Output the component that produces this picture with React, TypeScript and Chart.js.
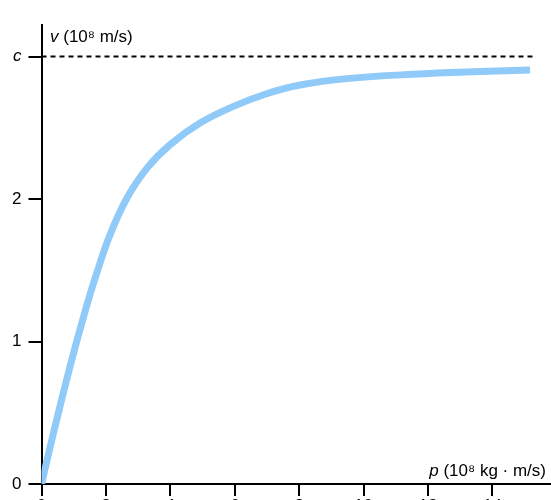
import React, { useEffect, useRef } from 'react';
import { Chart, registerables } from 'chart.js';

Chart.register(...registerables);

// Momentum p (10^8 kg·m/s) and velocity v (10^8 m/s)
const momentum = [0, 0.37, 0.885, 1.38, 1.73, 2.13, 2.65, 3.27, 3.99, 4.92, 5.96, 6.99, 8.03, 9.48, 11.55, 13.62, 15.17];
const velocity = [0, 0.356, 0.824, 1.234, 1.49, 1.75, 2.005, 2.215, 2.381, 2.533, 2.65, 2.739, 2.8, 2.845, 2.876, 2.895, 2.905];

const speedOfLight = 3;
const dashedLineX = [0, 15.3];

const xTickValues = [0, 2, 4, 6, 8, 10, 12, 14];
const xTickLabels = ['0', '2', '4', '6', '8', '10', '12', '14'];
const yTickValues = [0, 1, 2, 3];
const yTickLabels = ['0', '1', '2', 'c'];

const xAxisMax = 15.82;
const yAxisMax = 3.22;

const FONT = '"Liberation Sans", Arial, Helvetica, sans-serif';
const FONT_SIZE = 17;

const axisLabelPlugin = {
  id: 'axisLabels',
  afterDraw(chart: any) {
    const ctx = chart.ctx as CanvasRenderingContext2D;
    const { left, top, right, bottom } = chart.chartArea;
    ctx.save();
    ctx.fillStyle = '#000';
    ctx.textBaseline = 'alphabetic';
    ctx.textAlign = 'left';
    const measure = (items: [string, boolean][]) => {
      let w = 0;
      for (const [t, it] of items) {
        ctx.font = `${it ? 'italic ' : ''}${FONT_SIZE}px ${FONT}`;
        w += ctx.measureText(t).width;
      }
      return w;
    };
    const draw = (items: [string, boolean][], x: number, y: number) => {
      let cx = x;
      for (const [t, it] of items) {
        ctx.font = `${it ? 'italic ' : ''}${FONT_SIZE}px ${FONT}`;
        ctx.fillText(t, cx, y);
        cx += ctx.measureText(t).width;
      }
    };
    const vLabel: [string, boolean][] = [['v', true], [' (10⁸ m/s)', false]];
    draw(vLabel, left + 8.5, top + 16.5);
    const pLabel: [string, boolean][] = [['p', true], [' (10⁸ kg · m/s)', false]];
    const w = measure(pLabel);
    draw(pLabel, right - 5 - w, bottom - 8.5);
    ctx.restore();
  },
};

export default function App() {
  const canvasRef = useRef<HTMLCanvasElement | null>(null);

  useEffect(() => {
    if (!canvasRef.current) return;
    const chart = new Chart(canvasRef.current, {
      type: 'line',
      data: {
        datasets: [
          {
            label: 'c',
            data: dashedLineX.map((x) => ({ x, y: speedOfLight })),
            borderColor: '#000',
            borderWidth: 2,
            borderDash: [5, 4],
            pointRadius: 0,
            fill: false,
          },
          {
            label: 'v(p)',
            data: momentum.map((p, i) => ({ x: p, y: velocity[i] })),
            borderColor: '#90CAF9',
            borderWidth: 7,
            borderCapStyle: 'butt',
            tension: 0.4,
            pointRadius: 0,
            fill: false,
          },
        ],
      },
      options: {
        animation: false,
        responsive: false,
        maintainAspectRatio: false,
        layout: { padding: { top: 17, left: 0, right: 0, bottom: 0 } },
        plugins: {
          legend: { display: false },
          tooltip: { enabled: false },
        },
        scales: {
          x: {
            type: 'linear',
            min: 0,
            max: xAxisMax,
            afterBuildTicks: (scale: any) => {
              scale.ticks = xTickValues.map((v) => ({ value: v }));
            },
            afterFit: (scale: any) => {
              scale.height = 36;
            },
            ticks: {
              color: '#000',
              padding: 0,
              font: { family: FONT, size: FONT_SIZE },
              callback: (_v: any, i: number) => xTickLabels[i],
            },
            grid: {
              display: true,
              drawOnChartArea: false,
              drawTicks: true,
              tickLength: 12,
              color: '#000',
              lineWidth: 2,
            },
            border: { display: true, color: '#000', width: 2 },
          },
          y: {
            type: 'linear',
            min: 0,
            max: yAxisMax,
            afterBuildTicks: (scale: any) => {
              scale.ticks = yTickValues.map((v) => ({ value: v }));
            },
            afterFit: (scale: any) => {
              scale.width = 33.5;
            },
            ticks: {
              color: '#000',
              padding: 7,
              font: (ctx: any) => ({
                family: FONT,
                size: FONT_SIZE,
                style: ctx.tick && ctx.tick.value === speedOfLight ? 'italic' : 'normal',
              }),
              callback: (_v: any, i: number) => yTickLabels[i],
            },
            grid: {
              display: true,
              drawOnChartArea: false,
              drawTicks: true,
              tickLength: 13,
              color: '#000',
              lineWidth: 2,
            },
            border: { display: true, color: '#000', width: 2 },
          },
        },
      } as any,
      plugins: [axisLabelPlugin],
    });
    return () => chart.destroy();
  }, []);

  return (
    <div style={{ position: 'fixed', top: 8, left: 8, width: 543, height: 512 }}>
      <canvas ref={canvasRef} width={543} height={512} style={{ width: 543, height: 512 }} />
    </div>
  );
}
